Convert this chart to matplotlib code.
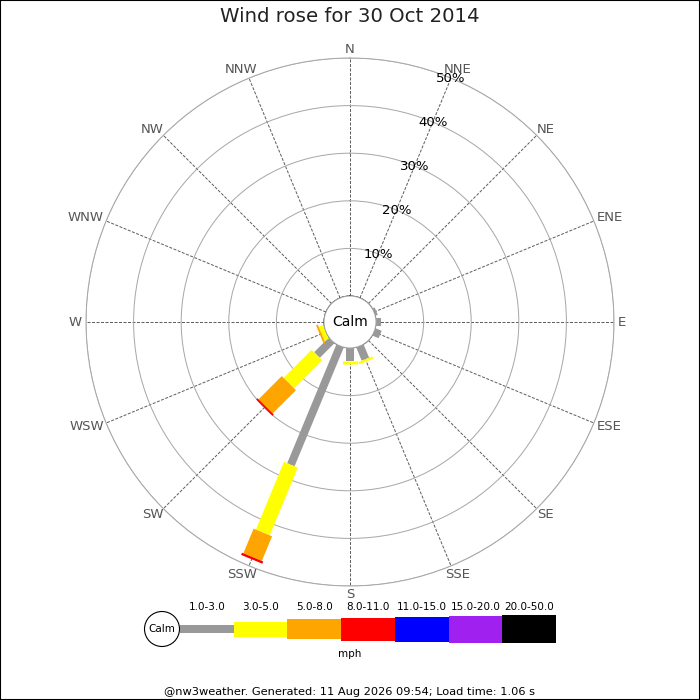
import numpy as np
import matplotlib
matplotlib.use('Agg')
import matplotlib.pyplot as plt
from matplotlib.patches import Circle, Rectangle
from matplotlib.transforms import offset_copy

DPI = 100

# compass points, clockwise from north
directions = ['N', 'NNE', 'NE', 'ENE', 'E', 'ESE', 'SE', 'SSE',
              'S', 'SSW', 'SW', 'WSW', 'W', 'WNW', 'NW', 'NNW']
speed_bins = ['1.0-3.0', '3.0-5.0', '5.0-8.0', '8.0-11.0',
              '11.0-15.0', '15.0-20.0', '20.0-50.0']
bin_colors = ['#999999', '#ffff00', '#ffa500', '#ff0000',
              '#0000ff', '#a020f0', '#000000']
bin_thickness_px = [8, 15, 20, 23, 25, 27, 28]

# frequency (%) per direction, one list per speed bin
freq_1_3 = [0, 0, 0, 0.5, 1.1, 1.4, 0, 3.0, 2.7, 27.0, 4.35, 0, 0, 0, 0, 0]
freq_3_5 = [0, 0, 0, 0, 0, 0, 0, 0.5, 0.7, 15.4, 8.35, 1.0, 0, 0, 0, 0]
freq_5_8 = [0, 0, 0, 0, 0, 0, 0, 0, 0, 5.6, 6.9, 0.4, 0, 0, 0, 0]
freq_8_11 = [0, 0, 0, 0, 0, 0, 0, 0, 0, 0.5, 0.4, 0, 0, 0, 0, 0]
freq_11_15 = [0] * 16
freq_15_20 = [0] * 16
freq_20_50 = [0] * 16

pct_ticks = [10, 20, 30, 40, 50]

title = 'Wind rose for 30 Oct 2014'
footer = '@nw3weather. Generated: 11 Aug 2026 09:54; Load time: 1.06 s'


def px_to_pt(px):
    return px * 72.0 / DPI


fig = plt.figure(figsize=(7, 7), dpi=DPI)
fig.patch.set_facecolor('white')

# rose axes: centre (350, 322) px, outer ring 264 px, calm circle 26 px
cx, cy, r_out, r_calm = 350, 322, 264, 26
ax = fig.add_axes([(cx - r_out) / 700, (700 - cy - r_out) / 700,
                   2 * r_out / 700, 2 * r_out / 700], projection='polar')
ax.set_theta_zero_location('N')
ax.set_theta_direction(-1)
ax.set_ylim(0, 50)
ax.set_rorigin(-50 * r_calm / (r_out - r_calm))

theta = np.deg2rad(np.arange(16) * 22.5)
ax.set_xticks(theta)
ax.set_xticklabels([])
ax.set_yticks(pct_ticks)
ax.set_yticklabels([])
ax.xaxis.grid(True, linestyle=(0, (3, 1.5)), color='#606060', linewidth=0.72)
ax.yaxis.grid(True, linestyle='-', color='#a8a8a8', linewidth=0.72)
for name, sp in ax.spines.items():
    if name == 'polar':
        sp.set_edgecolor('#a8a8a8')
        sp.set_linewidth(0.72)
    else:
        sp.set_visible(False)
ax.set_axisbelow(True)

all_freqs = [freq_1_3, freq_3_5, freq_5_8, freq_8_11, freq_11_15, freq_15_20, freq_20_50]
base = np.zeros(16)
for freqs, col, th in zip(all_freqs, bin_colors, bin_thickness_px):
    freqs = np.array(freqs, dtype=float)
    for i in range(16):
        if freqs[i] > 0:
            ax.plot([theta[i], theta[i]], [base[i], base[i] + freqs[i]],
                    color=col, linewidth=px_to_pt(th), solid_capstyle='butt', zorder=3)
    base += freqs

for p in pct_ticks:
    ax.text(np.deg2rad(22.5), p, f'{p}%', ha='center', va='center',
            fontsize=9.5, color='black', zorder=4)

ax.add_patch(Circle((0.5, 0.5), r_calm / (2 * r_out), transform=ax.transAxes,
                    facecolor='white', edgecolor='#a8a8a8', linewidth=0.72,
                    zorder=6, clip_on=False))
ax.text(0.5, 0.5, 'Calm', transform=ax.transAxes, ha='center', va='center',
        fontsize=10, color='black', zorder=7)

# compass labels: anchored just outside the outer ring, pushed outward by half their size
r_label = 50 * (268 - r_calm) / (r_out - r_calm)
dir_texts = [ax.text(t, r_label, lab, ha='center', va='center', fontsize=9.5,
                     color='#555555', clip_on=False)
             for t, lab in zip(theta, directions)]
fig.canvas.draw()
renderer = fig.canvas.get_renderer()
for t, txt in zip(theta, dir_texts):
    bb = txt.get_window_extent(renderer)
    txt.set_transform(offset_copy(ax.transData, fig=fig, units='dots',
                                  x=np.sin(t) * bb.width / 2,
                                  y=np.cos(t) * bb.height * 0.38))

# legend strip, drawn in pixel coordinates
lax = fig.add_axes([130 / 700, (700 - 670) / 700, 440 / 700, 80 / 700])
lax.set_xlim(130, 570)
lax.set_ylim(670, 590)
lax.axis('off')
seg_w = (556 - 180) / len(speed_bins)
lefts = 180 + np.arange(len(speed_bins)) * seg_w
mid_y = 629
th_arr = np.array(bin_thickness_px, dtype=float)
lax.bar(lefts, th_arr, width=seg_w, bottom=mid_y - th_arr / 2, align='edge',
        color=bin_colors, linewidth=0)
for x, lab in zip(lefts, speed_bins):
    lax.text(x + seg_w / 2, 607, lab, ha='center', va='center', fontsize=7.5)
lax.text(350, 654, 'mph', ha='center', va='center', fontsize=7.5)
lax.add_patch(Circle((162, mid_y), 17.5, facecolor='white', edgecolor='black',
                     linewidth=0.8, zorder=3))
lax.text(162, mid_y, 'Calm', ha='center', va='center', fontsize=7.5, zorder=4)
lax.set_aspect('equal')

fig.text(0.5, 1 - 17 / 700, title, ha='center', va='center', fontsize=14.2, color='#222222')
fig.text(0.5, 1 - 692 / 700, footer, ha='center', va='center', fontsize=8.2, color='black')

fig.add_artist(Rectangle((0, 0), 1, 1, transform=fig.transFigure, fill=False,
                         edgecolor='black', linewidth=1.5))

fig.savefig('out.png', dpi=DPI)
